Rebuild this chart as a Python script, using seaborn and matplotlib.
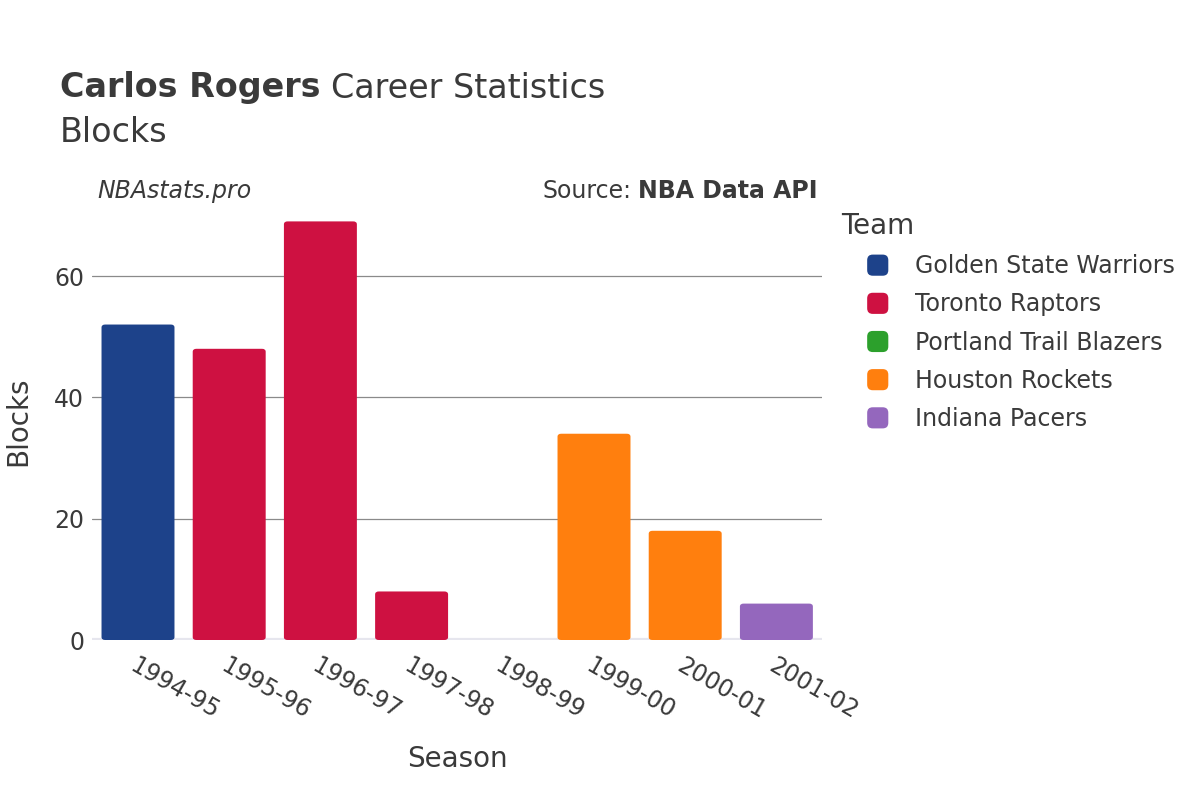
import numpy as np
import pandas as pd
import matplotlib
matplotlib.use("Agg")
import matplotlib.pyplot as plt
import seaborn as sns
from matplotlib.patches import FancyBboxPatch, Patch
from matplotlib.legend_handler import HandlerPatch

seasons = ["1994-95", "1995-96", "1996-97", "1997-98", "1998-99", "1999-00", "2000-01", "2001-02"]
teams = ["Golden State Warriors", "Toronto Raptors", "Toronto Raptors", "Toronto Raptors",
         "Portland Trail Blazers", "Houston Rockets", "Houston Rockets", "Indiana Pacers"]
blocks = [52, 48, 69, 8, 0, 34, 18, 6]

team_order = ["Golden State Warriors", "Toronto Raptors", "Portland Trail Blazers", "Houston Rockets", "Indiana Pacers"]
team_colors = ["#1d428a", "#ce1141", "#2ca02c", "#ff7f0e", "#9467bd"]
palette = dict(zip(team_order, team_colors))

df = pd.DataFrame({"Season": seasons, "Team": teams, "Blocks": blocks})

sns.set_style("white")
plt.rcParams["font.family"] = ["DejaVu Sans"]
text_col = "#3a3a3a"

fig = plt.figure(figsize=(12, 8), dpi=100)
ax = fig.add_axes([0.077, 0.2, 0.608, 0.546])

sns.barplot(data=df, x="Season", y="Blocks", hue="Team", hue_order=team_order,
            palette=palette, dodge=False, width=0.8, ax=ax, legend=False, saturation=1)

# rounded tops for the bars
for p in list(ax.patches):
    x, y = p.get_x(), p.get_y()
    w, h = p.get_width(), p.get_height()
    fc = p.get_facecolor()
    p.remove()
    if h <= 0:
        continue
    ax.add_patch(FancyBboxPatch((x, y), w, h, boxstyle="round,pad=0,rounding_size=0.04",
                                mutation_aspect=12, facecolor=fc, edgecolor="none", zorder=3))

ax.set_ylim(0, 72)
ax.set_xlim(-0.5, len(seasons) - 0.5)
ax.set_yticks([0, 20, 40, 60])
for yv in [20, 40, 60]:
    ax.axhline(yv, color="#8a8a8a", lw=0.9, zorder=1)
ax.axhline(0, color="#e6e6ee", lw=3, zorder=2)
for s in ax.spines.values():
    s.set_visible(False)

ax.tick_params(axis="both", length=0, labelsize=17, colors=text_col)
ax.tick_params(axis="y", pad=6)
ax.tick_params(axis="x", pad=10)
plt.setp(ax.get_xticklabels(), rotation=-30, ha="left", rotation_mode="anchor")
ax.set_xlabel("Season", fontsize=20, color=text_col, labelpad=15)
ax.set_ylabel("Blocks", fontsize=20, color=text_col, labelpad=16)

renderer = fig.canvas.get_renderer()
W, H = fig.get_size_inches() * fig.dpi

t1 = fig.text(60 / W, 1 - 88 / H, "Carlos Rogers", fontsize=24, fontweight="bold", color=text_col, va="center")
bb = t1.get_window_extent(renderer)
fig.text(bb.x1 / W + 0.009, 1 - 88 / H, "Career Statistics", fontsize=24, color=text_col, va="center")
fig.text(60 / W, 1 - 132 / H, "Blocks", fontsize=24, color=text_col, va="center")
fig.text(97 / W, 1 - 191 / H, "NBAstats.pro", fontsize=17, style="italic", color=text_col, va="center")
t2 = fig.text(818 / W, 1 - 191 / H, "NBA Data API", fontsize=17, fontweight="bold", color=text_col,
              va="center", ha="right")
bb2 = t2.get_window_extent(renderer)
fig.text(bb2.x0 / W - 0.006, 1 - 191 / H, "Source:", fontsize=17, color=text_col, va="center", ha="right")


def rounded_square(legend, orig_handle, xdescent, ydescent, width, height, fontsize):
    s = height
    return FancyBboxPatch((-xdescent + width - s, -ydescent), s, s,
                          boxstyle="round,pad=0,rounding_size=4")


handles = [Patch(facecolor=c, edgecolor="none") for c in team_colors]
leg = fig.legend(handles, team_order, title="Team", loc="upper left",
                 bbox_to_anchor=(834 / W, 1 - 205 / H), frameon=False, fontsize=17,
                 title_fontsize=20, labelspacing=0.6, handletextpad=1.15,
                 handlelength=2.0, handleheight=1.0, borderaxespad=0, borderpad=0.3,
                 handler_map={Patch: HandlerPatch(patch_func=rounded_square)})
leg._legend_box.align = "left"
for t in leg.get_texts():
    t.set_color(text_col)
leg.get_title().set_color(text_col)

fig.savefig("out.png", dpi=100)
